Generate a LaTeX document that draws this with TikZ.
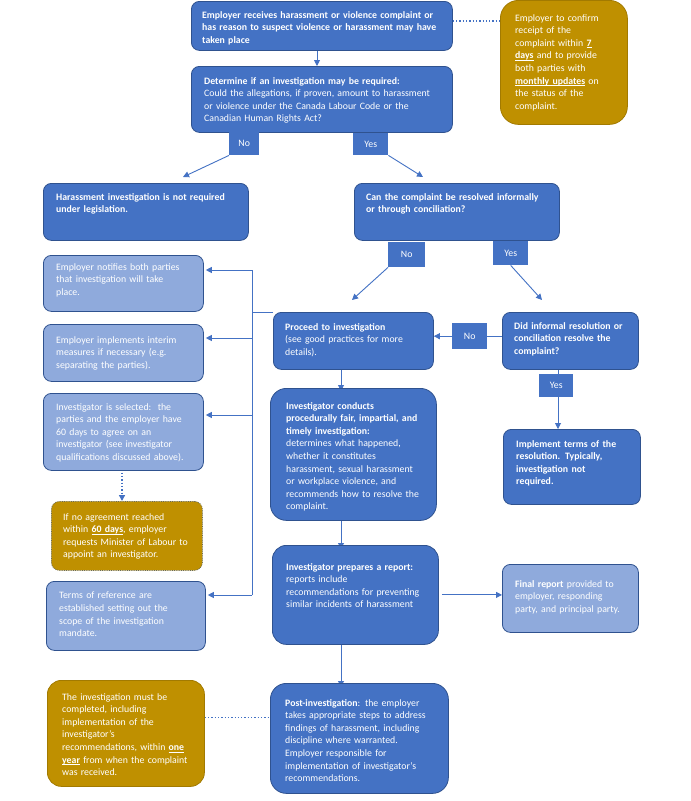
\documentclass[tikz,border=0pt]{standalone}
\usepackage{fontspec}
\setmainfont{Carlito}
\usetikzlibrary{arrows.meta}
\definecolor{dblue}{HTML}{4472C4}
\definecolor{bord}{HTML}{2F528F}
\definecolor{lblue}{HTML}{8FAADC}
\definecolor{gold}{HTML}{BF9000}
\newcommand{\ulb}[1]{\textbf{\underline{\smash{#1}}}}
\pgfdeclarelayer{bg}
\pgfsetlayers{bg,main}
\tikzset{
  box/.style={rounded corners=8pt, draw=bord, line width=0.8pt, inner sep=0pt, anchor=north west},
  dbox/.style={box, fill=dblue},
  lbox/.style={box, fill=lblue},
  gbox/.style={box, fill=gold, draw=gold!85!black},
  txt/.style={anchor=north west, inner sep=0pt, align=left, text=white, text width=250pt,
    font=\fontsize{9.8}{12.6}\selectfont},
  lab/.style={fill=dblue, text=white, inner sep=0pt, anchor=north west,
    font=\fontsize{9.8}{11}\selectfont},
  arr/.style={draw=dblue, line width=0.9pt, -{Triangle[width=6pt,length=6pt]}},
  ln/.style={draw=dblue, line width=0.9pt},
  dotln/.style={draw=dblue, line width=1.3pt, dotted},
}
\begin{document}
\begin{tikzpicture}[x=1pt,y=-1pt]
\useasboundingbox (0,0) rectangle (691,801);
\begin{pgfonlayer}{bg}
\fill[white] (0,0) rectangle (691,801);
\end{pgfonlayer}

% top
\node[dbox, minimum width=261pt, minimum height=49pt] (T1) at (191,1) {};
\node[txt] (T1t) at (202,11) {\bfseries Employer receives harassment or violence complaint or\\
has reason to suspect violence or harassment may have\\ taken place};
\node[dbox, minimum width=261pt, minimum height=66pt] (T2) at (191,66) {};
\node[txt] (T2t) at (204,77) {\textbf{Determine if an investigation may be required:}\\
Could the allegations, if proven, amount to harassment\\
or violence under the Canada Labour Code or the\\
Canadian Human Rights Act?};
\node[lab, minimum width=30pt, minimum height=23pt] (no1) at (229,132) {No};
\node[lab, minimum width=35pt, minimum height=22pt] (yes1) at (353,133) {Yes};

\node[gbox, rounded corners=18pt, minimum width=127pt, minimum height=124pt] (N1) at (500,0) {};
\node[txt] (N1t) at (515,14) {Employer to confirm\\ receipt of the\\
complaint within \ulb{7}\\ \ulb{days} and to provide\\
both parties with\\ \ulb{monthly updates} on\\ the status of the\\ complaint.};

% second row
\node[dbox, minimum width=205pt, minimum height=57pt] (NR) at (43,183) {};
\node[txt] (NRt) at (56,193) {\bfseries Harassment investigation is not required\\ under legislation.};
\node[dbox, minimum width=205pt, minimum height=57pt] (CR) at (354,183) {};
\node[txt] (CRt) at (366,193) {\bfseries Can the complaint be resolved informally\\ or through conciliation?};
\node[lab, minimum width=37pt, minimum height=25pt] (no2) at (388,242) {No};
\node[lab, minimum width=35pt, minimum height=24pt] (yes2) at (493,241) {Yes};

% left column
\node[lbox, minimum width=160pt, minimum height=56pt] (L1) at (43,255) {};
\node[txt] (L1t) at (56,263) {Employer notifies both parties\\ that investigation will take\\ place.};
\node[lbox, minimum width=160pt, minimum height=57pt] (L2) at (43,324) {};
\node[txt] (L2t) at (56,336) {Employer implements interim\\ measures if necessary (e.g.\\ separating the parties).};
\node[lbox, minimum width=160pt, minimum height=77pt] (L3) at (43,393) {};
\node[txt] (L3t) at (56,403) {Investigator is selected:\ \ the\\ parties and the employer have\\
60 days to agree on an\\ investigator (see investigator\\ qualifications discussed above).};
\node[gbox, draw=bord!60!gold, densely dotted, minimum width=151pt, minimum height=69pt] (G2) at (51,501) {};
\node[txt] (G2t) at (63,513) {If no agreement reached\\ within \ulb{60 days}, employer\\
requests Minister of Labour to\\ appoint an investigator.};
\node[lbox, minimum width=159pt, minimum height=69pt] (L4) at (46,581) {};
\node[txt] (L4t) at (59,592) {Terms of reference are\\ established setting out the\\
scope of the investigation\\ mandate.};

% middle / right
\node[dbox, minimum width=160pt, minimum height=57pt] (P) at (273,312) {};
\node[txt] (Pt) at (285,323) {\textbf{Proceed to investigation}\\ (see good practices for more\\ details).};
\node[dbox, minimum width=136pt, minimum height=57pt] (D) at (502,312) {};
\node[txt] (Dt) at (514,322) {\bfseries Did informal resolution or\\ conciliation resolve the\\ complaint?};
\node[lab, minimum width=35pt, minimum height=26pt] (no3) at (452,323) {No};
\node[lab, minimum width=34pt, minimum height=23pt] (yes3) at (539,374) {Yes};
\node[dbox, minimum width=137pt, minimum height=75pt] (I) at (503,429) {};
\node[txt] (It) at (516,440) {\bfseries Implement terms of the\\ resolution. Typically,\\ investigation not\\ required.};

\node[dbox, rounded corners=16pt, minimum width=166pt, minimum height=132pt] (C) at (270,388) {};
\node[txt] (Ct) at (286,402) {\textbf{Investigator conducts}\\ \textbf{procedurally fair, impartial, and}\\
\textbf{timely investigation:}\\ determines what happened,\\ whether it constitutes\\
harassment, sexual harassment\\ or workplace violence, and\\ recommends how to resolve the\\ complaint.};
\node[dbox, rounded corners=14pt, minimum width=166pt, minimum height=99pt] (R) at (272,545) {};
\node[txt] (Rt) at (286,563) {\textbf{Investigator prepares a report:}\\ reports include\\
recommendations for preventing\\ similar incidents of harassment};
\node[lbox, minimum width=136pt, minimum height=68pt] (F) at (502,564) {};
\node[txt] (Ft) at (515,580) {\textbf{Final report} provided to\\ employer, responding\\ party, and principal party.};

\node[dbox, rounded corners=16pt, minimum width=178pt, minimum height=110pt] (PI) at (270,683) {};
\node[txt] (PIt) at (285,699) {\textbf{Post-investigation}: the employer\\ takes appropriate steps to address\\
findings of harassment, including\\ discipline where warranted.\\ Employer responsible for\\
implementation of investigator’s\\ recommendations.};
\node[gbox, rounded corners=14pt, minimum width=157pt, minimum height=106pt] (G3) at (47,680) {};
\node[txt] (G3t) at (62,693) {The investigation must be\\ completed, including\\
implementation of the\\ investigator’s\\ recommendations, within \ulb{one}\\
\ulb{year} from when the complaint\\ was received.};

% coordinates
\coordinate (a1) at (183,177);
\coordinate (a2) at (423,177);
\coordinate (a3) at (352,300);
\coordinate (a4) at (542,300);
\coordinate (xc) at (341,0);
\coordinate (xd) at (558,0);
\coordinate (jn) at (252,312);
\coordinate (t1) at (252,270);
\coordinate (t2) at (252,338);
\coordinate (t3) at (252,415);
\coordinate (t4) at (252,595);

\begin{pgfonlayer}{bg}
\draw[arr] (T1.south -| 317,0) -- (T2.north -| 317,0);
\draw[arr] (no1.south west) -- (a1);
\draw[arr] (yes1.south east) -- (a2);
\draw[arr] (no2.south west) -- (a3);
\draw[arr] (yes2.south) -- (a4);
\draw[arr] (D.west |- no3.center) -- (P.east |- no3.center);
\draw[arr] (D.south -| xd) -- (I.north -| xd);
\draw[arr] (P.south -| xc) -- ([yshift=-3pt]C.north -| xc);
\draw[arr] (C.south -| xc) -- ([yshift=-4pt]R.north -| xc);
\draw[arr] (R.south -| xc) -- ([yshift=-4pt]PI.north -| xc);
\draw[arr] ([xshift=3pt]R.east) -- (R.east -| F.west);
\draw[ln] (P.north west) -- (jn);
\draw[ln] (t1) -- (t4);
\draw[arr] (t1) -- ([xshift=2pt]t1 -| L1.east);
\draw[arr] (t2) -- ([xshift=2pt]t2 -| L2.east);
\draw[arr] (t3) -- ([xshift=2pt]t3 -| L3.east);
\draw[arr] (t4) -- ([xshift=2pt]t4 -| L4.east);
\draw[dotln, -{Triangle[width=6pt,length=6pt]}, shorten <=2pt] (L3.south -| 122,0) -- (G2.north -| 122,0);
\draw[dotln] ([yshift=5pt]T1.east) -- ([yshift=5pt]T1.east -| N1.west);
\draw[dotln] ([yshift=16pt]G3.east) -- ([yshift=16pt]G3.east -| PI.west);
\end{pgfonlayer}
\end{tikzpicture}
\end{document}
